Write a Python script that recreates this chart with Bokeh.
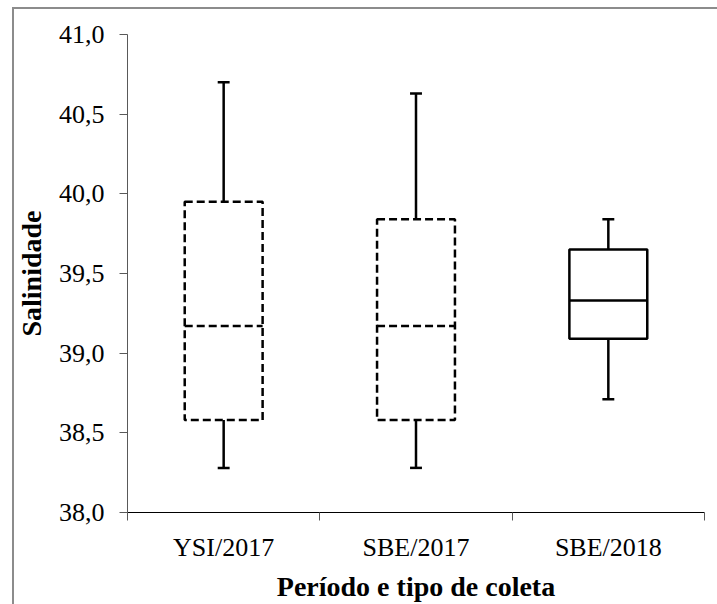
from bokeh.plotting import figure
from bokeh.models import FixedTicker, CustomJSTickFormatter, Label
from bokeh.embed import file_html
from bokeh.resources import INLINE

# Salinity box plots per sampling period / instrument
categories = ["YSI/2017", "SBE/2017", "SBE/2018"]
whisker_low = [38.28, 38.28, 38.71]
q1 = [38.58, 38.58, 39.09]
median = [39.17, 39.17, 39.33]
q3 = [39.95, 39.84, 39.65]
whisker_high = [40.70, 40.63, 39.84]
dashed = [True, True, False]
y_ticks = [38.0, 38.5, 39.0, 39.5, 40.0, 40.5, 41.0]

FONT = "Liberation Serif"
BOX_HALF = 0.2025
CAP_HALF = 0.031
LW = 2.5

p = figure(width=717, height=604, x_range=(0, 3), y_range=(38, 41),
           output_backend="svg", toolbar_location=None,
           min_border_left=127, min_border_right=13,
           min_border_top=34, min_border_bottom=91)
p.outline_line_color = None
p.grid.visible = False
p.background_fill_color = "white"
p.border_fill_color = "white"

for i, cat in enumerate(categories):
    xc = i + 0.5
    dash = "8 4" if dashed[i] else "solid"
    # box
    p.quad(left=[xc - BOX_HALF], right=[xc + BOX_HALF], bottom=[q1[i]], top=[q3[i]],
           fill_color=None, line_color="black", line_width=LW, line_dash=dash)
    # median
    p.segment(x0=[xc - BOX_HALF], x1=[xc + BOX_HALF], y0=[median[i]], y1=[median[i]],
              line_color="black", line_width=LW, line_dash=dash)
    # whiskers
    p.segment(x0=[xc, xc], x1=[xc, xc], y0=[q3[i], whisker_low[i]], y1=[whisker_high[i], q1[i]],
              line_color="black", line_width=LW)
    # caps
    p.segment(x0=[xc - CAP_HALF, xc - CAP_HALF], x1=[xc + CAP_HALF, xc + CAP_HALF],
              y0=[whisker_high[i], whisker_low[i]], y1=[whisker_high[i], whisker_low[i]],
              line_color="black", line_width=LW)

# y axis
ya = p.yaxis[0]
ya.ticker = FixedTicker(ticks=y_ticks)
ya.formatter = CustomJSTickFormatter(code="return tick.toFixed(1).replace('.', ',');")
ya.axis_line_color = "#595959"
ya.major_tick_line_color = "#595959"
ya.major_tick_out = 8
ya.major_tick_in = 0
ya.minor_tick_line_color = None
ya.major_label_standoff = 15
ya.major_label_text_font = FONT
ya.major_label_text_font_size = "26px"
ya.major_label_text_color = "black"
ya.axis_label = "Salinidade"
ya.axis_label_text_font = FONT
ya.axis_label_text_font_style = "bold"
ya.axis_label_text_font_size = "28px"
ya.axis_label_text_color = "black"
ya.axis_label_standoff = 9

# x axis: ticks between categories, labels at centres
xa = p.xaxis[0]
xa.ticker = FixedTicker(ticks=[i + 0.5 for i in range(len(categories))],
                        minor_ticks=list(range(len(categories) + 1)))
xa.formatter = CustomJSTickFormatter(args=dict(cats=categories),
                                     code="return cats[Math.floor(tick)];")
xa.axis_line_color = "black"
xa.major_tick_out = 0
xa.major_tick_in = 0
xa.minor_tick_out = 8
xa.minor_tick_in = 0
xa.minor_tick_line_color = "#595959"
xa.major_label_standoff = 12
xa.major_label_text_font = FONT
xa.major_label_text_font_size = "26px"
xa.major_label_text_color = "black"
xa.axis_label = "Período e tipo de coleta"
xa.axis_label_text_font = FONT
xa.axis_label_text_font_style = "bold"
xa.axis_label_text_font_size = "28px"
xa.axis_label_text_color = "black"
xa.axis_label_standoff = 6

# page frame around the chart (left and top edges)
p.stylesheets = [""":host { position: relative; }
:host::after {
  content: ""; position: absolute; left: 12px; top: 7px; right: 0; bottom: 0;
  border-left: 2px solid #8c8c8c; border-top: 2px solid #8c8c8c;
  box-sizing: border-box; pointer-events: none;
}"""]

# end of the caption line above the frame
p.add_layout(Label(x=2, y=6, x_units="canvas", y_units="canvas", text="ainda).",
                   text_align="left", text_baseline="alphabetic",
                   text_font=FONT, text_font_style="bold", text_font_size="7px"))

open("out.html", "w").write(file_html(p, INLINE))
